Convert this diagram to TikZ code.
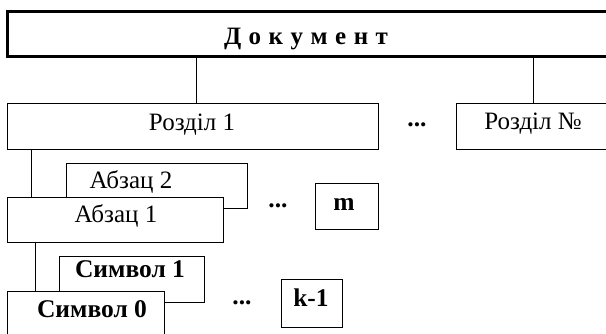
\documentclass[tikz,border=0pt]{standalone}
\usepackage{fontspec}
\setmainfont{Liberation Serif}
\begin{document}
\begin{tikzpicture}[x=1pt,y=-1pt,
  box/.style={draw, line width=1pt, fill=white, inner sep=0pt},
  lbl/.style={inner sep=0pt, anchor=base, font=\fontsize{25}{27}\selectfont},
  blbl/.style={inner sep=0pt, anchor=base, font=\fontsize{25.5}{27}\selectfont\bfseries},
  conn/.style={line width=1pt}]
\useasboundingbox (0,0) rectangle (606,334);
% boxes
\node[box, line width=3pt, minimum width=632.5pt, minimum height=45pt] (doc) at (323.75,34) {};
\node[box, minimum width=371pt, minimum height=46.5pt] (r1) at (193,126.75) {};
\node[box, minimum width=153.5pt, minimum height=46.5pt] (rn) at (533.25,126.75) {};
\node[box, minimum width=180.5pt, minimum height=45.5pt] (a2) at (156.75,186.25) {};
\node[box, minimum width=215.5pt, minimum height=45.5pt] (a1) at (115.25,220.25) {};
\node[box, minimum width=62.5pt, minimum height=46.5pt] (m) at (346.75,206.75) {};
\node[box, minimum width=144.5pt, minimum height=46.5pt] (s1) at (131.75,279.75) {};
\node[box, minimum width=156.5pt, minimum height=53.5pt] (s0) at (85.75,318.25) {};
\node[box, minimum width=60.5pt, minimum height=47.5pt] (k) at (311.75,303.25) {};
% texts
\node[blbl, font=\fontsize{25}{27}\selectfont\bfseries] (tdoc) at (306,45) {Д\kern7.5pt о\kern7.5pt к\kern7.5pt у\kern7.5pt м\kern7.5pt е\kern7.5pt н\kern7.5pt т};
\node[lbl] (tr1) at (192,131) {Розділ 1};
\node[lbl] (trn) at (533,129.5) {Розділ №};
\node[blbl] (d1) at (417,127) {...};
\node[lbl] (ta2) at (131,189) {Абзац 2};
\node[lbl] (ta1) at (116,223) {Абзац 1};
\node[blbl] (tm) at (344,211) {m};
\node[blbl] (d2) at (278,208) {...};
\node[blbl] (ts1) at (130,278) {Символ 1};
\node[blbl] (ts0) at (92,317) {Символ 0};
\node[blbl] (tk) at (311,306) {k-1};
\node[blbl] (d3) at (242,305) {...};
% connectors
\draw[conn] ([xshift=3pt]r1.north) -- ([xshift=3pt]r1.north |- doc.south);
\draw[conn] (rn.north) -- (rn.north |- doc.south);
\draw[conn] ([xshift=24.5pt]a1.north west) -- ([xshift=24.5pt]a1.north west |- r1.south);
\draw[conn] ([xshift=28.5pt]s0.north west) -- ([xshift=28.5pt]s0.north west |- a1.south);
\end{tikzpicture}
\end{document}
